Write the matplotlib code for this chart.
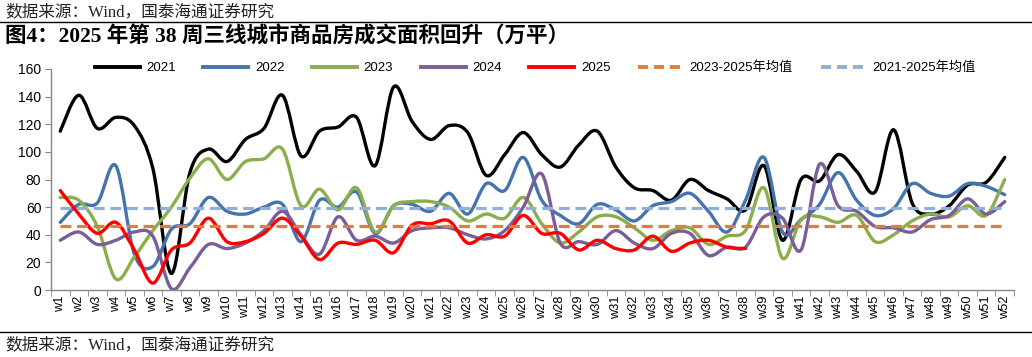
import numpy as np
import matplotlib.pyplot as plt
from matplotlib.path import Path
from matplotlib.patches import PathPatch
from matplotlib.lines import Line2D

weeks = ["w%d" % i for i in range(1, 53)]

y2021 = [115, 141, 117, 125, 119, 88, 12, 85, 102, 93, 109, 117, 141, 97, 115, 118, 125, 90, 147, 122,
         109, 119, 114, 83, 98, 114, 98, 89, 105, 115, 89, 74, 72, 65, 80, 72, 66, 58, 90, 36,
         80, 79, 98, 86, 71, 116, 63, 55, 61, 76, 78, 96]
y2022 = [49, 62, 63, 90, 26, 17, 44, 48, 67, 57, 55, 60, 62, 35, 65, 60, 71, 41, 61, 62,
         57, 70, 55, 77, 72, 96, 65, 54, 48, 62, 58, 50, 61, 64, 70, 57, 42, 65, 96, 42,
         51, 62, 85, 65, 54, 59, 77, 70, 68, 77, 75, 69]
y2023 = [67, 65, 46, 8, 24, 43, 60, 81, 95, 80, 93, 95, 102, 61, 73, 58, 74, 42, 61, 64,
         64, 60, 50, 55, 52, 67, 48, 34, 42, 53, 53, 45, 36, 43, 45, 33, 39, 43, 74, 23,
         51, 53, 49, 54, 35, 40, 50, 55, 53, 61, 54, 80]
y2024 = [36, 42, 33, 36, 42, 39, 1, 16, 33, 30, 34, 43, 57, 40, 26, 53, 36, 39, 34, 43,
         45, 45, 40, 37, 43, 60, 84, 34, 35, 33, 43, 34, 30, 41, 41, 25, 31, 31, 53, 52,
         29, 91, 61, 57, 46, 45, 42, 51, 54, 66, 55, 64]
y2025 = [72, 55, 41, 49, 29, 5, 29, 34, 52, 35, 35, 41, 52, 39, 22, 34, 33, 36, 27, 47,
         48, 50, 34, 40, 39, 54, 41, 41, 29, 36, 30, 29, 39, 28, 34, 36, 31, 30]
avg_2325 = 46.3
avg_2125 = 59.5

series = [
    ("2021", y2021, "#000000"),
    ("2022", y2022, "#4573AE"),
    ("2023", y2023, "#8AAE4C"),
    ("2024", y2024, "#7A5E9A"),
    ("2025", y2025, "#FF0000"),
]


def smooth_path(xs, ys):
    # Excel-style smoothed line: cubic bezier through the data points
    pts = np.column_stack([xs, ys]).astype(float)
    n = len(pts)
    verts = [pts[0]]
    codes = [Path.MOVETO]
    for i in range(n - 1):
        p0 = pts[i - 1] if i > 0 else pts[i]
        p1 = pts[i]
        p2 = pts[i + 1]
        p3 = pts[i + 2] if i + 2 < n else pts[i + 1]
        c1 = p1 + (p2 - p0) / 6.0
        c2 = p2 - (p3 - p1) / 6.0
        verts += [c1, c2, p2]
        codes += [Path.CURVE4] * 3
    return Path(verts, codes)


fig = plt.figure(figsize=(10.32, 3.57), dpi=100)
ax = fig.add_axes([51 / 1032, 67 / 357, 963 / 1032, 221 / 357])

x = np.arange(1, 53)
ax.plot(x, [avg_2325] * 52, color="#E57C34", lw=2.3, dashes=(3.4, 1.8))
ax.plot(x, [avg_2125] * 52, color="#94AEDA", lw=2.3, dashes=(3.4, 1.8))

for name, ys, col in series:
    xs = np.arange(1, len(ys) + 1)
    ax.add_patch(PathPatch(smooth_path(xs, ys), facecolor="none", edgecolor=col, lw=2.4,
                           capstyle="round", joinstyle="round"))

ax.set_xlim(0.5, 52.5)
ax.set_ylim(0, 160)
ax.set_yticks(range(0, 161, 20))
ax.set_xticks(x)
ax.set_xticklabels(weeks, rotation=90, fontsize=9.2, family="Liberation Sans")
ax.set_xticks(np.arange(0.5, 53, 1), minor=True)
ax.tick_params(axis="x", which="major", length=0, pad=4)
ax.tick_params(axis="x", which="minor", length=4, color="#868686")
ax.tick_params(axis="y", length=4, color="#868686", pad=3)
for lab in ax.get_yticklabels():
    lab.set_family("Liberation Sans")
    lab.set_fontsize(10)
for s in ["top", "right"]:
    ax.spines[s].set_visible(False)
for s in ["left", "bottom"]:
    ax.spines[s].set_color("#868686")
    ax.spines[s].set_linewidth(1)

handles = [Line2D([], [], color=c, lw=2.8) for _, _, c in series]
handles.append(Line2D([], [], color="#E57C34", lw=2.8, dashes=(2.6, 1.5)))
handles.append(Line2D([], [], color="#94AEDA", lw=2.8, dashes=(2.6, 1.5)))
labels = [n for n, _, _ in series] + ["2023-2025年均值", "2021-2025年均值"]
fig.legend(handles, labels, loc="center", bbox_to_anchor=(535 / 1032, 1 - 68 / 357), ncol=7,
           frameon=False, handlelength=3.4, handletextpad=0.5, columnspacing=2.1, borderpad=0,
           prop={"family": ["Liberation Sans", "Noto Sans CJK SC"], "size": 9.5})

src = "数据来源：Wind，国泰海通证券研究"
fig.text(5 / 1032, 1 - 12 / 357, src, fontsize=12, va="center", ha="left",
         family=["Liberation Serif", "Noto Sans CJK SC"], color="#222222")
fig.text(5 / 1032, 1 - 37 / 357, "图4：2025 年第 38 周三线城市商品房成交面积回升（万平）",
         fontsize=15.5, fontweight="bold", va="center", ha="left",
         family=["Liberation Serif", "Noto Sans CJK SC"])
fig.text(5 / 1032, 1 - 345 / 357, src, fontsize=12, va="center", ha="left",
         family=["Liberation Serif", "Noto Sans CJK SC"], color="#222222")
fig.add_artist(Line2D([0, 1], [1 - 22 / 357, 1 - 22 / 357], color="black", lw=1))
fig.add_artist(Line2D([0, 1], [1 - 332 / 357, 1 - 332 / 357], color="black", lw=1))

fig.savefig("out.png", dpi=100)
